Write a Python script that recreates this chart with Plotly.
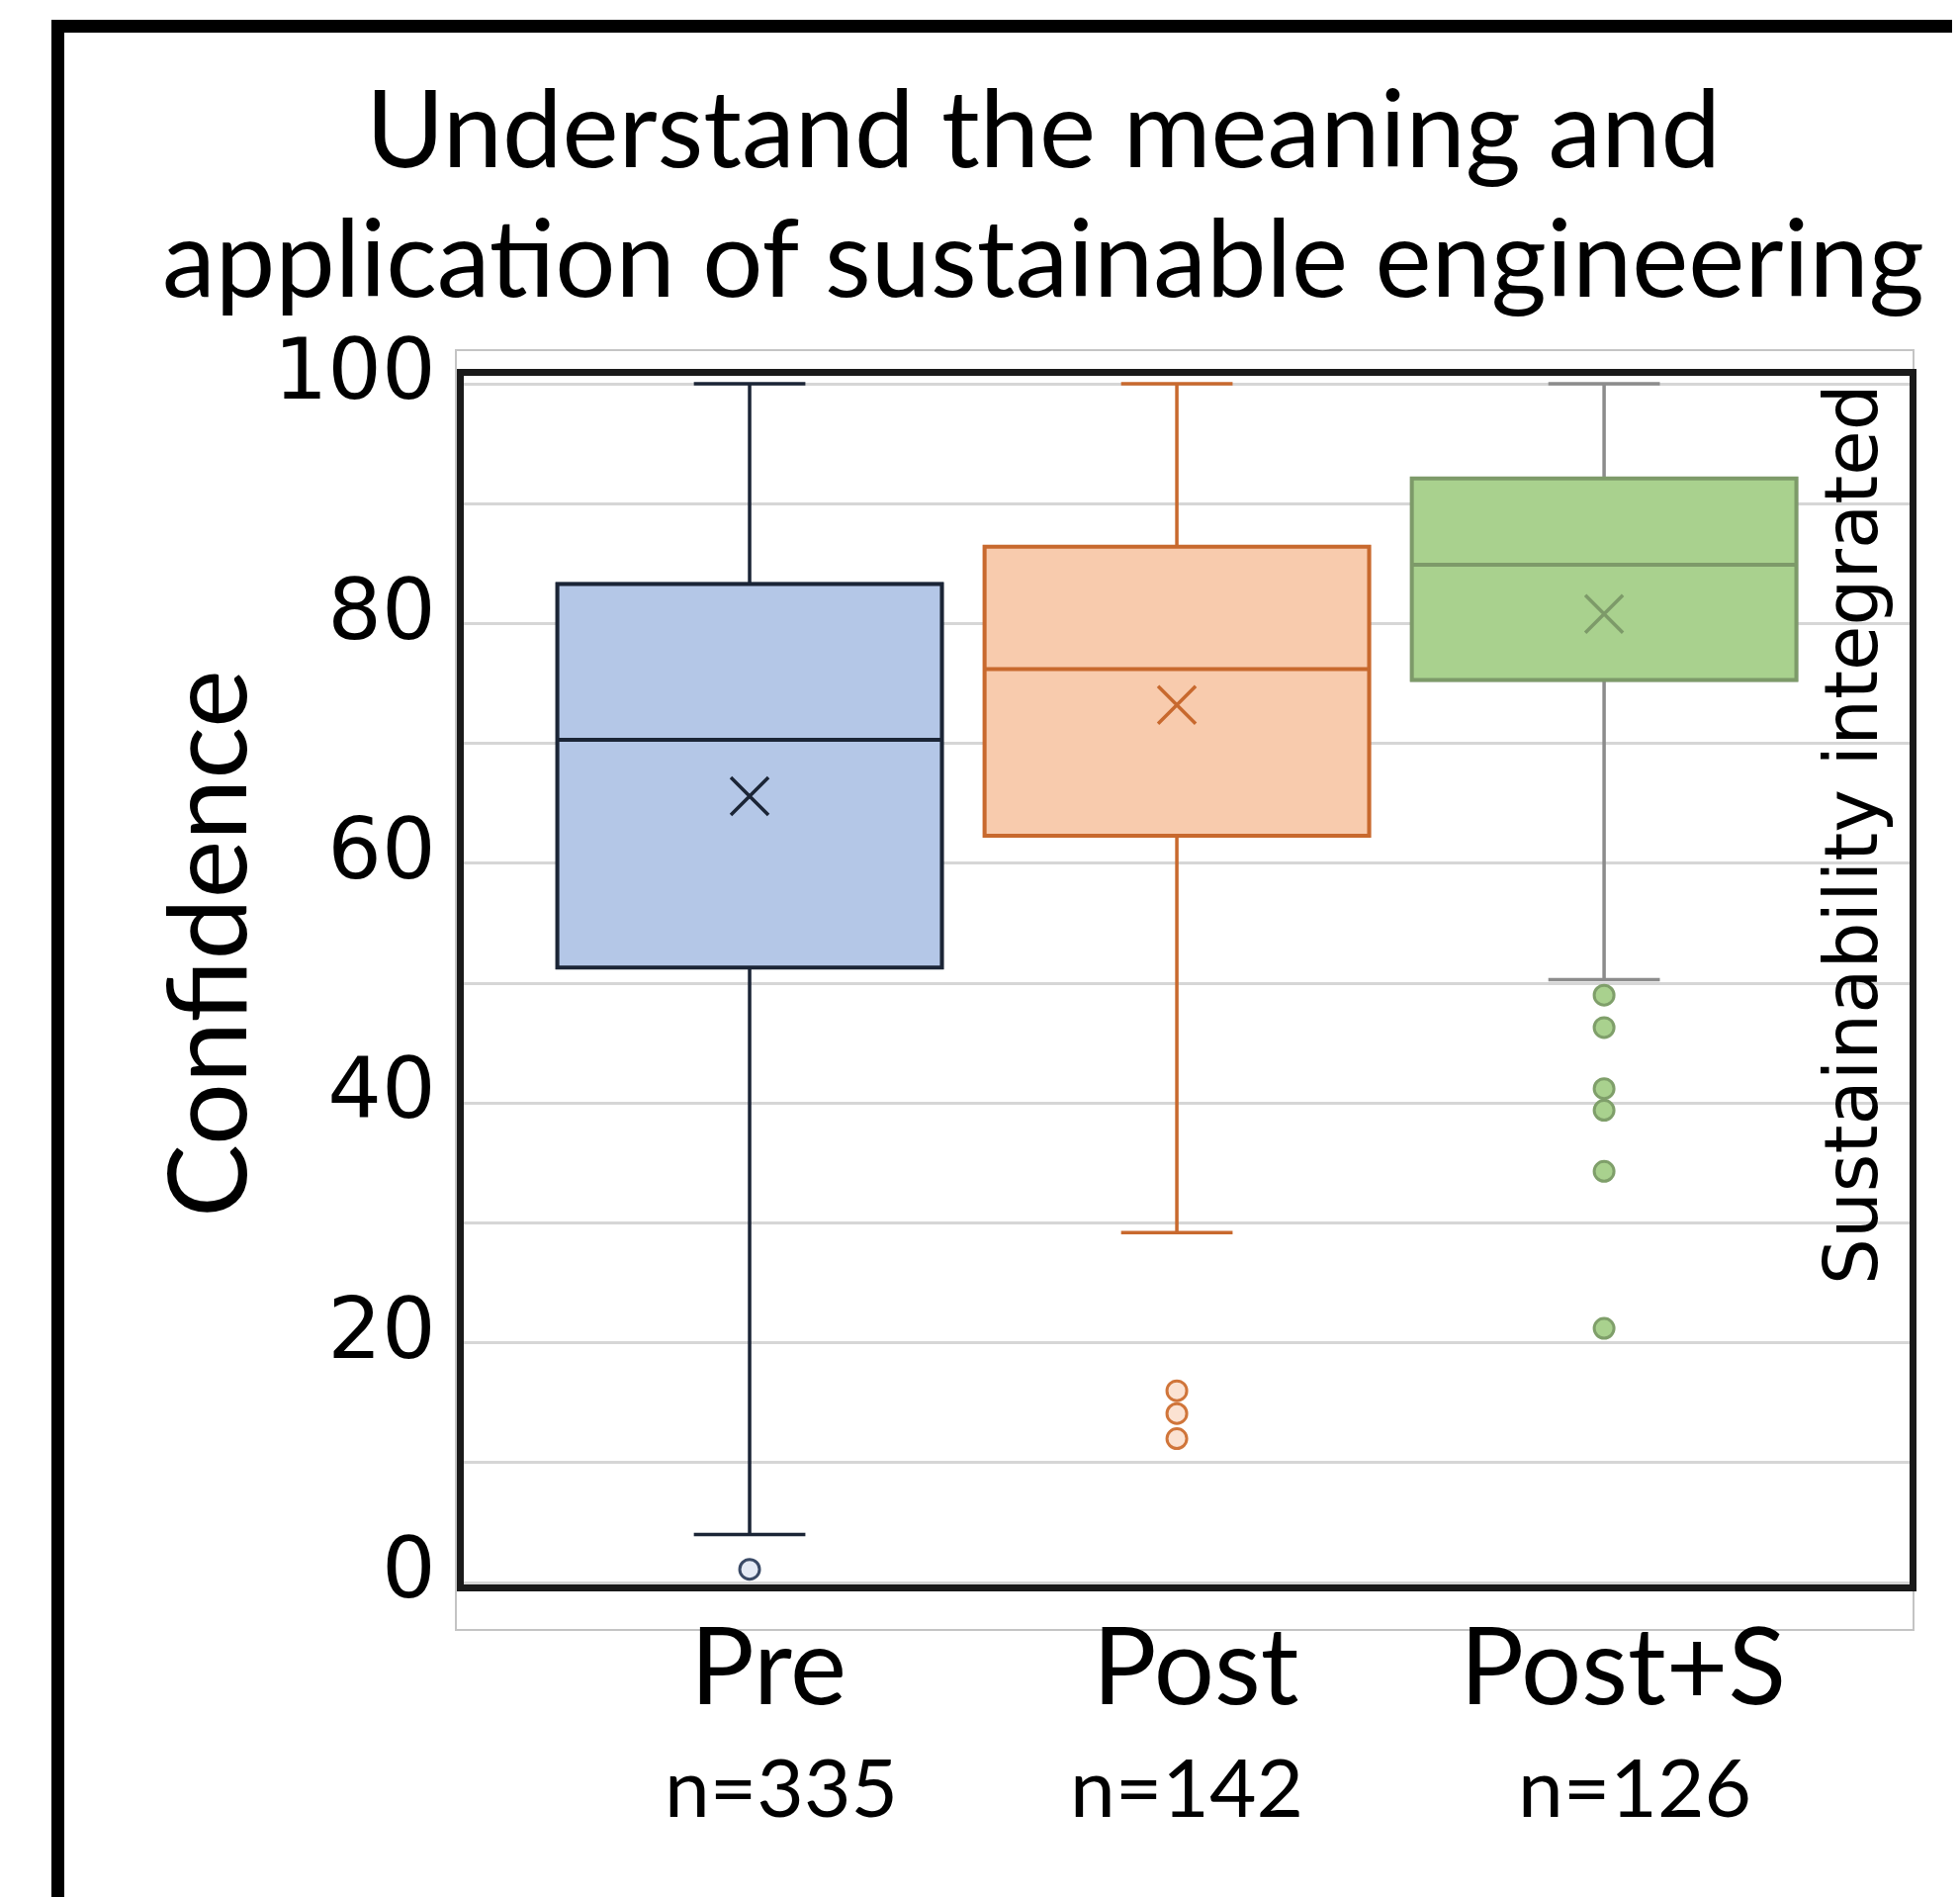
import plotly.graph_objects as go

# ---------------- data ----------------
categories = ["Pre", "Post", "Post+S"]
n_labels = ["n=335", "n=142", "n=126"]
lower_fence = [4.0, 29.2, 50.3]
q1 = [51.3, 62.3, 75.3]
median = [70.3, 76.2, 84.9]
q3 = [83.3, 86.4, 92.1]
upper_fence = [100.0, 100.0, 100.0]
means = [65.6, 73.2, 80.8]
outliers_pre = [1.1]
outliers_post = [16.0, 14.1, 12.0]
outliers_posts = [49.0, 46.3, 41.2, 39.4, 34.3, 21.2]
outliers = [outliers_pre, outliers_post, outliers_posts]
y_ticks = [0, 20, 40, 60, 80, 100]
title_lines = ["Understand the meaning and", "application of sustainable engineering"]

# ---------------- styles ----------------
fill_colors = ["#B4C7E7", "#F8CBAD", "#A9D18E"]
edge_colors = ["#1B2536", "#C8692E", "#7D9A69"]
whisker_colors = ["#1B2536", "#C8692E", "#8C8C8C"]
mean_colors = ["#1B2536", "#C8692E", "#7D9A69"]
outlier_fill = ["#E4EAF5", "#FBE2D2", "#A9D18E"]
outlier_edge = ["#3A4A66", "#D0753A", "#7F9F6A"]

OFF = 8  # page body margin offset of the rendered figure
W, H = 1982, 1918
# inner plot area in screen px
SL, SR, ST, SB = 469, 1931, 380, 1602
L, R, T, B = SL - OFF, SR - OFF, ST - OFF, SB - OFF


def px(xs_):
    return (xs_ - OFF - L) / (R - L)


def py(ys_):
    return (B - (ys_ - OFF)) / (B - T)


fig = go.Figure()
xs = list(range(len(categories)))

for i in xs:
    # whiskers + caps
    fig.add_trace(go.Box(
        x=[xs[i]], q1=[q1[i]], median=[median[i]], q3=[q3[i]],
        lowerfence=[lower_fence[i]], upperfence=[upper_fence[i]],
        width=0.9, whiskerwidth=0.29,
        fillcolor=fill_colors[i],
        line=dict(color=whisker_colors[i], width=3.5),
        boxpoints=False, showlegend=False, hoverinfo="skip",
    ))
    # box body on top
    fig.add_trace(go.Box(
        x=[xs[i]], q1=[q1[i]], median=[median[i]], q3=[q3[i]],
        lowerfence=[q1[i]], upperfence=[q3[i]],
        width=0.9, whiskerwidth=0,
        fillcolor=fill_colors[i],
        line=dict(color=edge_colors[i], width=4),
        boxpoints=False, showlegend=False,
    ))
    # outliers
    fig.add_trace(go.Scatter(
        x=[xs[i]] * len(outliers[i]), y=outliers[i], mode="markers",
        marker=dict(symbol="circle", size=20, color=outlier_fill[i],
                    line=dict(color=outlier_edge[i], width=3)),
        showlegend=False,
    ))
    # mean marker
    fig.add_trace(go.Scatter(
        x=[xs[i]], y=[means[i]], mode="markers",
        marker=dict(symbol="x-thin", size=38,
                    line=dict(color=mean_colors[i], width=3.5)),
        showlegend=False,
    ))

fig.update_layout(
    width=W, height=H,
    margin=dict(l=L, r=W - R, t=T, b=H - B, pad=0),
    paper_bgcolor="white", plot_bgcolor="white",
    boxmode="overlay",
    showlegend=False,
    font=dict(family="Lato", color="black"),
)

fig.update_xaxes(
    range=[-0.669, 2.715],
    tickvals=xs, ticktext=categories,
    tickfont=dict(family="Lato", size=108, color="black"),
    showgrid=False, zeroline=False,
    showline=True, linecolor="#1A1A1A", linewidth=7, mirror=True,
    ticks="", ticklabelstandoff=-16, ticklabelshift=19,
)
fig.update_yaxes(
    range=[-0.16, 100.66],
    tickvals=y_ticks, ticktext=[str(v) for v in y_ticks],
    tickfont=dict(family="DejaVu Sans", size=86, color="black"),
    showgrid=True, gridcolor="#D6D6D6", gridwidth=3,
    minor=dict(dtick=10, tick0=0, showgrid=True, gridcolor="#D6D6D6", gridwidth=3),
    zeroline=False,
    showline=True, linecolor="#1A1A1A", linewidth=7, mirror=True,
    ticks="", ticklabelstandoff=4, ticklabelshift=-15,
)

# two-line title: base size sets the line spacing (1.3em), spans set glyph size
title_text = "<br>".join(
    '<span style="font-size:108px">%s</span>' % t for t in title_lines)

annotations = [
    dict(text=title_text, x=px(1055), y=py(193),
         xref="paper", yref="paper", showarrow=False, xanchor="center", yanchor="middle",
         align="center", font=dict(family="Lato", size=101, color="black")),
    dict(text="Confidence", x=px(206), y=py(954), textangle=-90,
         xref="paper", yref="paper", showarrow=False, xanchor="center", yanchor="middle",
         font=dict(family="Lato", size=111, color="black")),
    dict(text="Sustainability integrated", x=px(1872), y=py(844), textangle=-90,
         xref="paper", yref="paper", showarrow=False, xanchor="center", yanchor="middle",
         font=dict(family="DejaVu Sans", size=74, color="black")),
]
n_shift = [32, 10, 31]
for i in xs:
    annotations.append(dict(
        text=n_labels[i], x=xs[i], y=py(1805), xref="x", yref="paper",
        xshift=n_shift[i], showarrow=False, xanchor="center", yanchor="middle",
        font=dict(family="Lato", size=82, color="black")))
fig.update_layout(annotations=annotations)

shapes = [
    # light gray chart-area border
    dict(type="rect", xref="paper", yref="paper",
         x0=px(461), x1=px(1935), y0=py(1648), y1=py(354),
         line=dict(color="#C4C4C4", width=2), fillcolor="rgba(0,0,0,0)", layer="below"),
    # thick outer black frame (cut off at right and bottom)
    dict(type="rect", xref="paper", yref="paper",
         x0=px(58.5), x1=px(2030), y0=py(1980), y1=py(26.5),
         line=dict(color="black", width=13), fillcolor="rgba(0,0,0,0)"),
]
fig.update_layout(shapes=shapes)

fig.write_html("out.html")
